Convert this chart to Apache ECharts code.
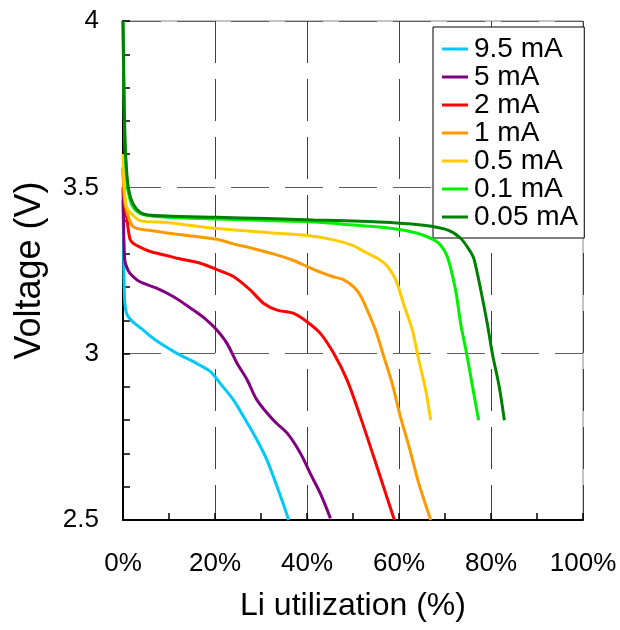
<!DOCTYPE html>
<html>
<head>
<meta charset="utf-8">
<script src="https://cdn.jsdelivr.net/npm/echarts@6/dist/echarts.min.js"></script>
<style>
html,body{margin:0;padding:0;background:#fff;}
#chart{width:620px;height:630px;}
</style>
</head>
<body>
<div id="chart"></div>
<script>
// Series names (legend order)
const seriesNames = ['9.5 mA', '5 mA', '2 mA', '1 mA', '0.5 mA', '0.1 mA', '0.05 mA'];
const seriesColors = ['#00C8F8', '#800080', '#FF0000', '#FF9900', '#FFCC00', '#00F000', '#008000'];

// Li utilization (%) and Voltage (V) for each current
const x_9_5 = [0, 0.1, 0.2, 0.4, 0.8, 1.5, 2.6, 4.4, 6.2, 8.1, 11.7, 15.3, 19.0, 21.1, 24.0, 26.2, 29.1, 31.3, 33.5, 35.3, 36.0];
const v_9_5 = [3.46, 3.36, 3.25, 3.15, 3.12, 3.105, 3.09, 3.071, 3.05, 3.031, 3.001, 2.976, 2.946, 2.911, 2.861, 2.811, 2.741, 2.68, 2.60, 2.53, 2.50];

const x_5 = [0, 0.1, 0.2, 0.4, 0.8, 1.5, 3.7, 7.3, 11.0, 15.3, 18.2, 20.4, 22.6, 24.8, 27.0, 29.1, 32.7, 35.7, 38.6, 40.7, 42.9, 45.1];
const v_5 = [3.50, 3.42, 3.34, 3.28, 3.26, 3.242, 3.216, 3.197, 3.171, 3.131, 3.101, 3.071, 3.031, 2.971, 2.921, 2.861, 2.80, 2.761, 2.70, 2.64, 2.58, 2.505];

const x_2 = [0, 0.3, 0.8, 1.5, 2.2, 3.7, 5.9, 9.5, 11.7, 16.8, 20.0, 24.0, 27.7, 30.6, 33.5, 37.1, 40.0, 42.9, 45.8, 48.7, 51.6, 54.5, 57.1, 59.0];
const v_2 = [3.56, 3.46, 3.41, 3.345, 3.332, 3.32, 3.307, 3.295, 3.287, 3.272, 3.255, 3.232, 3.191, 3.151, 3.131, 3.121, 3.096, 3.061, 3.001, 2.921, 2.81, 2.69, 2.58, 2.50];

const x_1 = [0, 0.3, 0.8, 2.2, 5.9, 13.1, 20.4, 24.0, 27.7, 32.7, 37.1, 40.0, 42.9, 45.5, 48.0, 50.2, 51.6, 53.1, 54.9, 56.7, 58.5, 60.3, 62.2, 64.3, 66.9];
const v_1 = [3.56, 3.47, 3.43, 3.382, 3.37, 3.357, 3.344, 3.33, 3.318, 3.30, 3.28, 3.262, 3.245, 3.232, 3.222, 3.20, 3.175, 3.131, 3.071, 2.991, 2.911, 2.811, 2.72, 2.61, 2.50];

const x_0_5 = [0, 0.3, 0.8, 1.9, 3.7, 9.5, 20.4, 31.3, 40.0, 45.8, 50.0, 53.1, 55.5, 57.5, 59.3, 61.1, 62.9, 64.3, 65.8, 66.9];
const v_0_5 = [3.60, 3.50, 3.44, 3.42, 3.40, 3.394, 3.376, 3.364, 3.355, 3.342, 3.325, 3.302, 3.285, 3.262, 3.222, 3.145, 3.071, 2.981, 2.891, 2.80];

const x_0_1 = [0, 0.1, 0.2, 0.4, 0.65, 1.1, 2.2, 4.4, 9.5, 20.4, 31.3, 41.4, 47.3, 58.2, 64.0, 67.6, 69.1, 70.5, 72.3, 73.4, 74.7, 76.0, 77.3];
const v_0_1 = [4.00, 3.88, 3.78, 3.64, 3.56, 3.49, 3.44, 3.418, 3.41, 3.405, 3.40, 3.396, 3.39, 3.377, 3.362, 3.342, 3.325, 3.292, 3.191, 3.091, 3.00, 2.90, 2.80];

const x_0_05 = [0, 0.1, 0.2, 0.4, 0.65, 1.15, 2.2, 4.4, 9.5, 20.4, 31.3, 41.5, 51.6, 58.2, 65.4, 70.5, 73.4, 75.6, 76.3, 77.8, 79.2, 80.3, 81.8, 82.9];
const v_0_05 = [4.00, 3.90, 3.81, 3.66, 3.58, 3.50, 3.45, 3.42, 3.414, 3.41, 3.406, 3.402, 3.398, 3.394, 3.386, 3.372, 3.347, 3.305, 3.285, 3.19, 3.09, 3.00, 2.90, 2.80];

const xList = [x_9_5, x_5, x_2, x_1, x_0_5, x_0_1, x_0_05];
const vList = [v_9_5, v_5, v_2, v_1, v_0_5, v_0_1, v_0_05];

// Axis tick labels
const xTicks = [0, 20, 40, 60, 80, 100];
const yTicks = [2.5, 3, 3.5, 4];

const FONT = 'Liberation Sans, Arial, sans-serif';

const series = seriesNames.map((name, i) => ({
  name: name,
  type: 'line',
  data: xList[i].map((x, j) => [x, vList[i][j]]),
  showSymbol: false,
  symbol: 'none',
  smooth: 0.3,
  lineStyle: { color: seriesColors[i], width: 3 },
  itemStyle: { color: seriesColors[i] },
  clip: true,
  z: 3 + i
}));

const chart = echarts.init(document.getElementById('chart'), null, { renderer: 'canvas' });
chart.setOption({
  animation: false,
  backgroundColor: '#ffffff',
  grid: {
    left: 123, right: 37, top: 21, bottom: 110,
    show: true, borderColor: '#888888', borderWidth: 1, backgroundColor: 'transparent'
  },
  legend: {
    data: seriesNames,
    orient: 'vertical',
    left: 433, top: 27,
    icon: 'rect',
    itemWidth: 26, itemHeight: 3, itemGap: 0,
    padding: [8, 6, 7, 9],
    borderColor: '#000', borderWidth: 1,
    backgroundColor: '#fff',
    textStyle: { fontSize: 28, lineHeight: 25, color: '#000', fontFamily: FONT, padding: [0, 0, 0, 1] },
    selectedMode: false
  },
  xAxis: {
    type: 'value',
    min: xTicks[0], max: xTicks[xTicks.length - 1], interval: 20,
    name: 'Li utilization (%)',
    nameLocation: 'middle', nameGap: 70,
    nameTextStyle: { fontSize: 32, color: '#000', fontFamily: FONT },
    axisLine: { show: true, lineStyle: { color: '#000', width: 2 } },
    axisTick: { show: true, inside: true, length: 7, lineStyle: { color: '#000', width: 1.5 } },
    minorTick: { show: true, splitNumber: 2, length: 7, lineStyle: { color: '#000', width: 1.5 } },
    axisLabel: { formatter: '{value}%', fontSize: 26, color: '#000', fontFamily: FONT, margin: 31 },
    splitLine: { show: true, lineStyle: { color: '#404040', width: 1, type: [42, 16] } }
  },
  yAxis: {
    type: 'value',
    min: yTicks[0], max: yTicks[yTicks.length - 1], interval: 0.5,
    name: 'Voltage (V)',
    nameLocation: 'middle', nameGap: 75,
    nameTextStyle: { fontSize: 36, color: '#000', fontFamily: FONT },
    axisLine: { show: true, lineStyle: { color: '#000', width: 2 } },
    axisTick: { show: true, inside: true, length: 7, lineStyle: { color: '#000', width: 1.5 } },
    minorTick: { show: true, splitNumber: 5, length: 7, lineStyle: { color: '#000', width: 1.5 } },
    axisLabel: { fontSize: 26, color: '#000', fontFamily: FONT, margin: 24 },
    splitLine: { show: true, lineStyle: { color: '#606060', width: 1, type: [38, 16] } }
  },
  series: series
});
</script>
</body>
</html>
